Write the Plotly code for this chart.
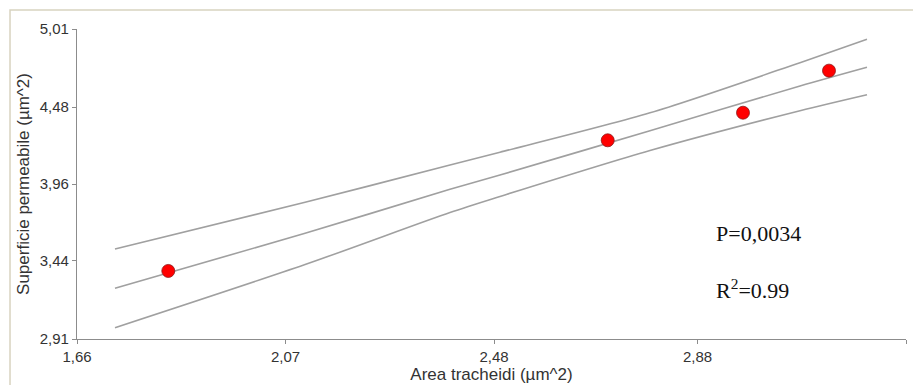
import plotly.graph_objects as go

# Observed samples
area_tracheidi = [1.8395, 2.7035, 2.9695, 3.1386]
superficie_perm = [3.371, 4.256, 4.443, 4.728]

# Regression line and confidence band, sampled along x
band_x = [1.7347, 2.1085, 2.3934, 2.4917, 2.7866, 3.0816, 3.2133]
fit_y = [3.2535, 3.626, 3.924, 4.021, 4.321, 4.624, 4.751]
upper_y = [3.5198, 3.836, 4.0889, 4.175, 4.442, 4.782, 4.940]
lower_y = [2.9866, 3.4147, 3.767, 3.8755, 4.1871, 4.4567, 4.5651]

# Axis ticks
x_ticks = [1.66, 2.07, 2.48, 2.88, 3.29]
x_tick_text = ["1,66", "2,07", "2,48", "2,88", "3,29"]
y_ticks = [2.91, 3.44, 3.96, 4.48, 5.01]
y_tick_text = ["2,91", "3,44", "3,96", "4,48", "5,01"]

line_style = dict(color="#a0a0a0", width=1.6, shape="spline", smoothing=0.8)

fig = go.Figure()
for ys in (upper_y, fit_y, lower_y):
    fig.add_trace(go.Scatter(x=band_x, y=ys, mode="lines", line=line_style,
                             hoverinfo="skip", showlegend=False))

fig.add_trace(go.Scatter(
    x=area_tracheidi, y=superficie_perm, mode="markers",
    marker=dict(color="#ff0000", size=13, line=dict(color="#8b1a1a", width=0.8)),
    showlegend=False,
))

axis_common = dict(
    showgrid=False, zeroline=False, showline=True, linecolor="#8c8c8c", linewidth=1.2,
    ticks="outside", ticklen=4, tickcolor="#8c8c8c",
    tickfont=dict(family="Arial, Liberation Sans", size=15, color="#333333"),
    title_font=dict(family="Arial, Liberation Sans", size=17, color="#333333"),
)

fig.update_xaxes(range=[1.66, 3.29], tickvals=x_ticks, ticktext=x_tick_text,
                 title_text="Area tracheidi (µm^2)", title_standoff=3, **axis_common)
fig.update_yaxes(range=[2.91, 5.01], tickvals=y_ticks, ticktext=y_tick_text,
                 title_text="Superficie permeabile (µm^2)", title_standoff=5, **axis_common)

# Light frame around the chart
fig.add_shape(type="rect", xref="paper", yref="paper",
              x0=-0.0808, x1=1.2, y0=-0.3, y1=1.0613,
              line=dict(color="#d8d3c0", width=1.5), layer="below")

stat_font = dict(family="Liberation Serif, Times New Roman", size=22, color="#111111")
fig.add_annotation(x=2.9125, y=3.628, xref="x", yref="y", text="P=0,0034",
                   showarrow=False, xanchor="left", yanchor="middle", font=stat_font)
fig.add_annotation(x=2.9125, y=3.25, xref="x", yref="y", text="R<sup>2</sup>=0.99",
                   showarrow=False, xanchor="left", yanchor="middle", font=stat_font)

fig.update_layout(
    width=913, height=385,
    margin=dict(l=77, r=7, t=29, b=46, autoexpand=False),
    paper_bgcolor="white", plot_bgcolor="white",
)

fig.write_html("out.html")
